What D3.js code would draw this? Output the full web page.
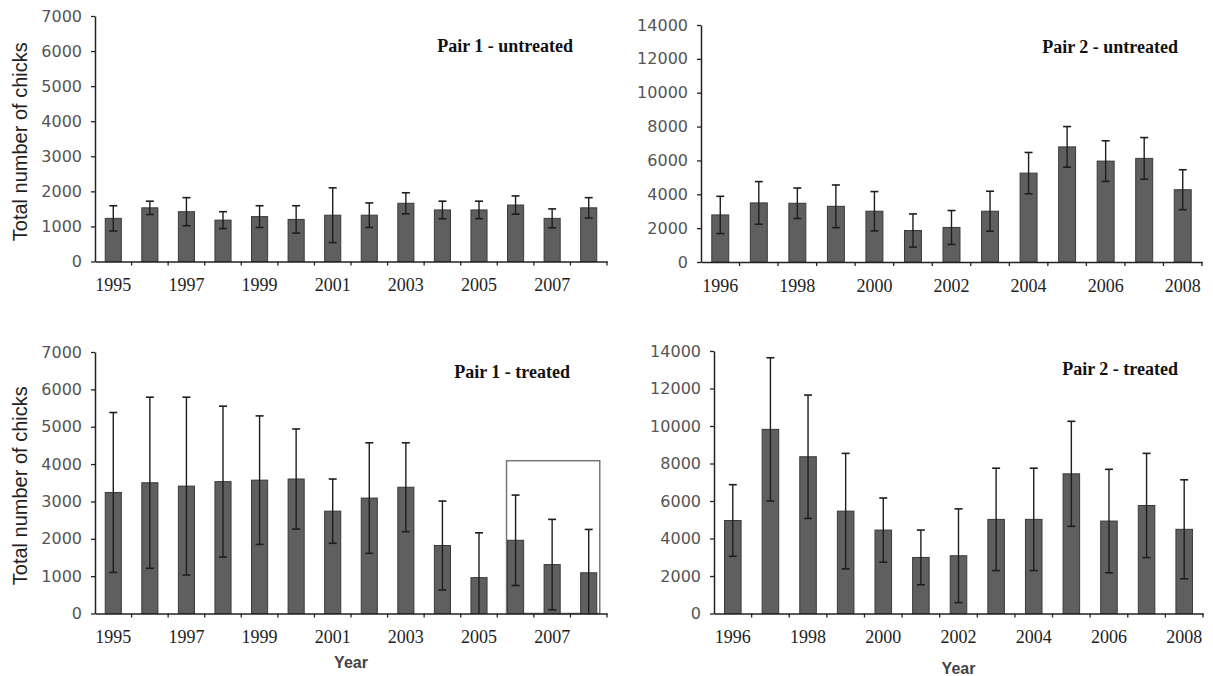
<!DOCTYPE html>
<html lang="en">
	<head>
		<meta charset="UTF-8" />
		<script src="https://cdnjs.cloudflare.com/ajax/libs/d3/7.8.5/d3.min.js"></script>
		<title>Total number of chicks</title>
		<style>
			body { margin: 0; background: #fff; }
		</style>
	</head>
	<body>
		<div class="chart"></div>

		<script>
			// data
			const pair1Years = [1995, 1996, 1997, 1998, 1999, 2000, 2001, 2002, 2003, 2004, 2005, 2006, 2007, 2008]
			const pair2Years = [1996, 1997, 1998, 1999, 2000, 2001, 2002, 2003, 2004, 2005, 2006, 2007, 2008]

			const pair1UntreatedMean = [1230, 1530, 1420, 1180, 1280, 1200, 1320, 1320, 1660, 1470, 1470, 1610, 1230, 1530]
			const pair1UntreatedSd = [360, 190, 400, 240, 310, 390, 780, 350, 300, 250, 250, 260, 270, 290]

			const pair2UntreatedMean = [2780, 3490, 3470, 3290, 3000, 1860, 2040, 3000, 5250, 6800, 5960, 6120, 4270]
			const pair2UntreatedSd = [1100, 1260, 900, 1260, 1160, 980, 1000, 1180, 1220, 1200, 1200, 1230, 1180]

			const pair1TreatedMean = [3240, 3500, 3410, 3530, 3570, 3600, 2740, 3090, 3380, 1820, 960, 1960, 1310, 1090]
			const pair1TreatedSd = [2140, 2290, 2380, 2020, 1720, 1340, 860, 1480, 1190, 1190, 1200, 1210, 1210, 1160]

			const pair2TreatedMean = [4960, 9820, 8360, 5460, 4450, 2990, 3080, 5020, 5020, 7450, 4930, 5760, 4490]
			const pair2TreatedSd = [1910, 3820, 3290, 3080, 1710, 1460, 2500, 2730, 2730, 2800, 2760, 2780, 2640]

			const pair1YTicks = [0, 1000, 2000, 3000, 4000, 5000, 6000, 7000]
			const pair2YTicks = [0, 2000, 4000, 6000, 8000, 10000, 12000, 14000]
			const pair1XLabels = [1995, 1997, 1999, 2001, 2003, 2005, 2007]
			const pair2XLabels = [1996, 1998, 2000, 2002, 2004, 2006, 2008]

			// highlighted years (box) in Pair 1 - treated
			const boxYears = [2006, 2008]
			const boxTop = 4090

			const width = 1213
			const height = 676

			const svg = d3
				.select('.chart')
				.append('svg')
				.attr('width', width)
				.attr('height', height)

			const panels = [
				{ title: 'Pair 1 - untreated', years: pair1Years, mean: pair1UntreatedMean, sd: pair1UntreatedSd,
					yTicks: pair1YTicks, xLabels: pair1XLabels, left: 95, right: 607, top: 16, bottom: 261.5,
					titleX: 573, titleY: 52, yTitle: true, xTitle: false },
				{ title: 'Pair 2 - untreated', years: pair2Years, mean: pair2UntreatedMean, sd: pair2UntreatedSd,
					yTicks: pair2YTicks, xLabels: pair2XLabels, left: 701, right: 1202, top: 25, bottom: 262,
					titleX: 1178, titleY: 53, yTitle: false, xTitle: false },
				{ title: 'Pair 1 - treated', years: pair1Years, mean: pair1TreatedMean, sd: pair1TreatedSd,
					yTicks: pair1YTicks, xLabels: pair1XLabels, left: 95, right: 607, top: 352, bottom: 613.5,
					titleX: 570, titleY: 378, yTitle: true, xTitle: true, xTitleY: 668, box: true },
				{ title: 'Pair 2 - treated', years: pair2Years, mean: pair2TreatedMean, sd: pair2TreatedSd,
					yTicks: pair2YTicks, xLabels: pair2XLabels, left: 714, right: 1203, top: 351, bottom: 613.5,
					titleX: 1178, titleY: 375, yTitle: false, xTitle: true, xTitleY: 674 }
			]

			panels.forEach(drawPanel)

			function drawPanel(p) {
				const g = svg.append('g')

				const xScale = d3
					.scaleBand()
					.domain(p.years)
					.range([p.left, p.right])
					.paddingInner(0.56)
					.paddingOuter(0.28)

				const yScale = d3
					.scaleLinear()
					.domain([0, d3.max(p.yTicks)])
					.range([p.bottom, p.top])

				const rows = p.years.map((yr, i) => ({ yr, m: p.mean[i], sd: p.sd[i] }))

				// box around the last three years
				if (p.box) {
					g.append('rect')
						.attr('x', xScale(boxYears[0]) - 1)
						.attr('y', yScale(boxTop))
						.attr('width', xScale(boxYears[1]) + xScale.bandwidth() + 3 - xScale(boxYears[0]) + 1)
						.attr('height', yScale(0) - yScale(boxTop))
						.attr('fill', 'none')
						.attr('stroke', '#777')
						.attr('stroke-width', 1.5)
				}

				// bars
				g.selectAll('rect.bar')
					.data(rows)
					.join('rect')
					.attr('class', 'bar')
					.attr('x', d => xScale(d.yr))
					.attr('y', d => yScale(d.m))
					.attr('width', xScale.bandwidth())
					.attr('height', d => yScale(0) - yScale(d.m))
					.attr('fill', '#5f5f5f')
					.attr('stroke', '#3a3a3a')
					.attr('stroke-width', 1)

				// error bars
				const cx = d => xScale(d.yr) + xScale.bandwidth() / 2
				const err = g.selectAll('g.err').data(rows).join('g').attr('class', 'err')
				err.append('line')
					.attr('x1', cx)
					.attr('x2', cx)
					.attr('y1', d => yScale(Math.max(0, d.m - d.sd)))
					.attr('y2', d => yScale(d.m + d.sd))
					.attr('stroke', '#1e1e1e')
					.attr('stroke-width', 1.4)
				err.append('line')
					.attr('x1', d => cx(d) - 4)
					.attr('x2', d => cx(d) + 4)
					.attr('y1', d => yScale(d.m + d.sd))
					.attr('y2', d => yScale(d.m + d.sd))
					.attr('stroke', '#1e1e1e')
					.attr('stroke-width', 1.6)
				err.filter(d => d.m - d.sd > 0)
					.append('line')
					.attr('x1', d => cx(d) - 4)
					.attr('x2', d => cx(d) + 4)
					.attr('y1', d => yScale(d.m - d.sd))
					.attr('y2', d => yScale(d.m - d.sd))
					.attr('stroke', '#1e1e1e')
					.attr('stroke-width', 1.6)

				// y axis
				const yAxis = g.append('g')
					.attr('transform', `translate(${p.left},0)`)
					.call(
						d3.axisLeft(yScale)
							.tickValues(p.yTicks)
							.tickFormat(d3.format('d'))
							.tickSize(4)
							.tickSizeOuter(0)
							.tickPadding(9)
					)
				yAxis.select('.domain').attr('stroke', '#222').attr('stroke-width', 1.5)
				yAxis.selectAll('.tick line').attr('stroke', '#222').attr('stroke-width', 1.3)
				yAxis.selectAll('text')
					.style('font-family', '"DejaVu Sans", sans-serif')
					.style('font-size', '16px')
					.attr('fill', '#555')

				// x axis, labels every other year
				const xAxis = g.append('g')
					.attr('transform', `translate(0,${yScale(0)})`)
					.call(d3.axisBottom(xScale).tickValues(p.xLabels).tickSize(0).tickSizeOuter(0).tickPadding(17))
				xAxis.select('.domain').attr('stroke', '#222').attr('stroke-width', 1.5)
				xAxis.selectAll('text')
					.style('font-family', '"Liberation Serif", "Times New Roman", serif')
					.style('font-size', '18px')
					.attr('fill', '#222')

				// small ticks between categories
				const step = xScale.step()
				g.selectAll('line.sep')
					.data(d3.range(1, p.years.length + 1))
					.join('line')
					.attr('class', 'sep')
					.attr('x1', i => p.left + i * step)
					.attr('x2', i => p.left + i * step)
					.attr('y1', yScale(0))
					.attr('y2', yScale(0) + 4)
					.attr('stroke', '#222')
					.attr('stroke-width', 1.3)

				// panel title
				g.append('text')
					.attr('x', p.titleX)
					.attr('y', p.titleY)
					.attr('text-anchor', 'end')
					.style('font-family', '"Liberation Serif", "Times New Roman", serif')
					.style('font-weight', 'bold')
					.style('font-size', '18px')
					.attr('fill', '#111')
					.text(p.title)

				if (p.yTitle) {
					g.append('text')
						.attr('transform', `translate(27,${(p.top + p.bottom) / 2 + 3}) rotate(-90)`)
						.attr('text-anchor', 'middle')
						.style('font-family', '"Liberation Sans", Arial, sans-serif')
						.style('font-size', '20px')
						.attr('fill', '#222')
						.text('Total number of chicks')
				}

				if (p.xTitle) {
					g.append('text')
						.attr('x', (p.left + p.right) / 2)
						.attr('y', p.xTitleY)
						.attr('text-anchor', 'middle')
						.style('font-family', '"Liberation Sans", Arial, sans-serif')
						.style('font-weight', 'bold')
						.style('font-size', '16px')
						.attr('fill', '#444')
						.text('Year')
				}
			}
		</script>
	</body>
</html>
